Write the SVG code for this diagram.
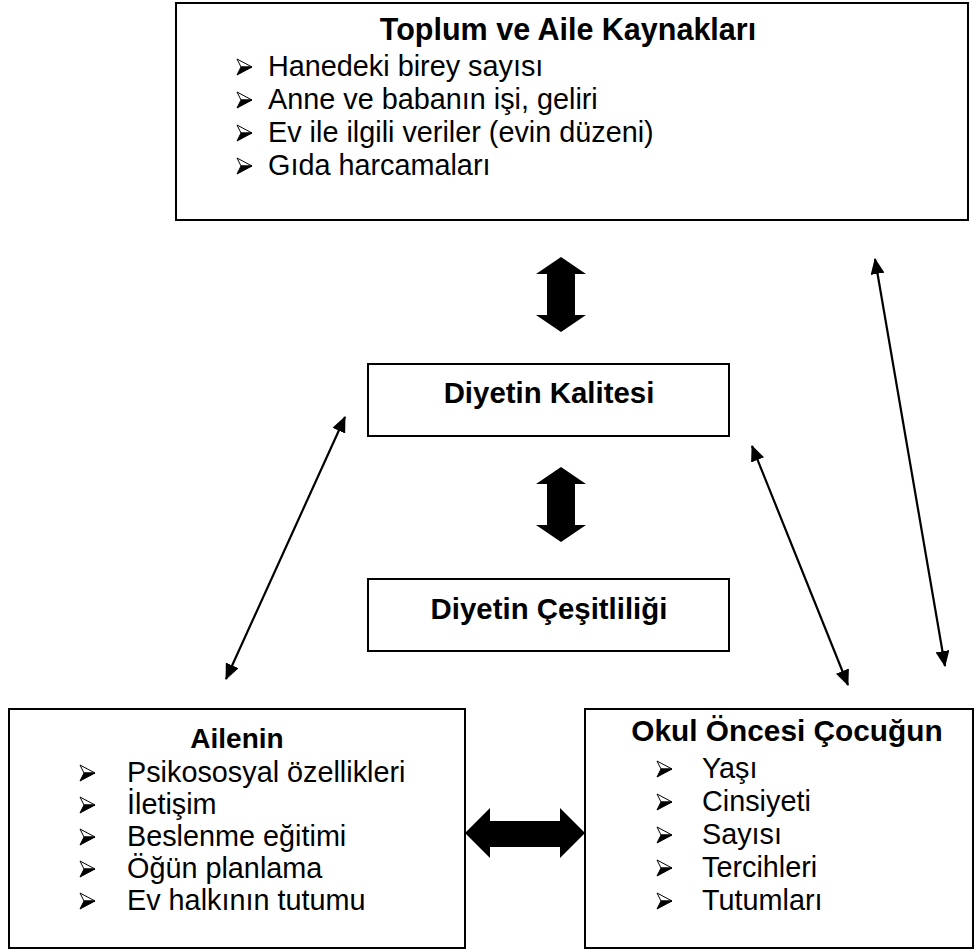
<svg xmlns="http://www.w3.org/2000/svg" width="980" height="952" viewBox="0 0 980 952">
<style>
.box{fill:#fff;stroke:#000;stroke-width:2}
.t{font-family:"Liberation Sans",Arial,sans-serif;font-size:28.8px;fill:#000}
.b{font-weight:bold;text-anchor:middle;font-size:29.4px}
.conn{stroke:#000;stroke-width:2.2;fill:none}
.thick{fill:#000}
</style>
<defs>
<marker id="ah" viewBox="0 0 16 14" refX="15" refY="7" markerWidth="16" markerHeight="14" markerUnits="userSpaceOnUse" orient="auto-start-reverse">
<path d="M0,0 L16,7 L0,14 z" fill="#000"/>
</marker>
<g id="bul">
<path d="M0,-8 L15,0 L4,0 Z" fill="#fff" stroke="#000" stroke-width="1"/>
<path d="M0,8 L15,0 L4,0 Z" fill="#000" stroke="#000" stroke-width="1"/>
</g>
</defs>
<rect width="980" height="952" fill="#fff"/>

<g id="connectors">
<line class="conn" x1="226" y1="679" x2="345" y2="417" marker-start="url(#ah)" marker-end="url(#ah)"/>
<line class="conn" x1="752" y1="446" x2="848" y2="685" marker-start="url(#ah)" marker-end="url(#ah)"/>
<line class="conn" x1="875" y1="259" x2="945" y2="666" marker-start="url(#ah)" marker-end="url(#ah)"/>
<polygon class="thick" points="561,257 586,274 575,274 575,315 586,315 561,332 536,315 547,315 547,274 536,274"/>
<polygon class="thick" points="561,467 586,484 575,484 575,525 586,525 561,542 536,525 547,525 547,484 536,484"/>
<polygon class="thick" points="465,833 490,808 490,821 560,821 560,808 585,833 560,858 560,847 490,847 490,858"/>
</g>

<g id="node-toplum">
<rect class="box" x="176" y="3" width="792" height="217"/>
<text class="t b" x="568" y="40" style="font-size:30.5px">Toplum ve Aile Kaynakları</text>
<use href="#bul" x="237" y="67"/>
<text class="t" x="268" y="76">Hanedeki birey sayısı</text>
<use href="#bul" x="237" y="100"/>
<text class="t" x="268" y="109">Anne ve babanın işi, geliri</text>
<use href="#bul" x="237" y="133"/>
<text class="t" x="268" y="142">Ev ile ilgili veriler (evin düzeni)</text>
<use href="#bul" x="237" y="166"/>
<text class="t" x="268" y="175">Gıda harcamaları</text>
</g>

<g id="node-kalite">
<rect class="box" x="368" y="364" width="361" height="72"/>
<text class="t b" x="549" y="403">Diyetin Kalitesi</text>
</g>

<g id="node-cesit">
<rect class="box" x="368" y="579" width="361" height="72"/>
<text class="t b" x="549" y="619">Diyetin Çeşitliliği</text>
</g>

<g id="node-aile">
<rect class="box" x="9" y="709" width="456" height="239"/>
<text class="t b" x="237" y="748" style="font-size:28px">Ailenin</text>
<use href="#bul" x="80" y="773"/>
<text class="t" x="127" y="782">Psikososyal özellikleri</text>
<use href="#bul" x="80" y="805"/>
<text class="t" x="127" y="814">İletişim</text>
<use href="#bul" x="80" y="837"/>
<text class="t" x="127" y="846">Beslenme eğitimi</text>
<use href="#bul" x="80" y="869"/>
<text class="t" x="127" y="878">Öğün planlama</text>
<use href="#bul" x="80" y="901"/>
<text class="t" x="127" y="910">Ev halkının tutumu</text>
</g>

<g id="node-cocuk">
<rect class="box" x="585" y="709" width="388" height="239"/>
<text class="t b" x="787" y="741" style="font-size:29.8px">Okul Öncesi Çocuğun</text>
<use href="#bul" x="657" y="769"/>
<text class="t" x="702" y="778">Yaşı</text>
<use href="#bul" x="657" y="802"/>
<text class="t" x="702" y="811">Cinsiyeti</text>
<use href="#bul" x="657" y="835"/>
<text class="t" x="702" y="844">Sayısı</text>
<use href="#bul" x="657" y="868"/>
<text class="t" x="702" y="877">Tercihleri</text>
<use href="#bul" x="657" y="901"/>
<text class="t" x="702" y="910">Tutumları</text>
</g>
</svg>
